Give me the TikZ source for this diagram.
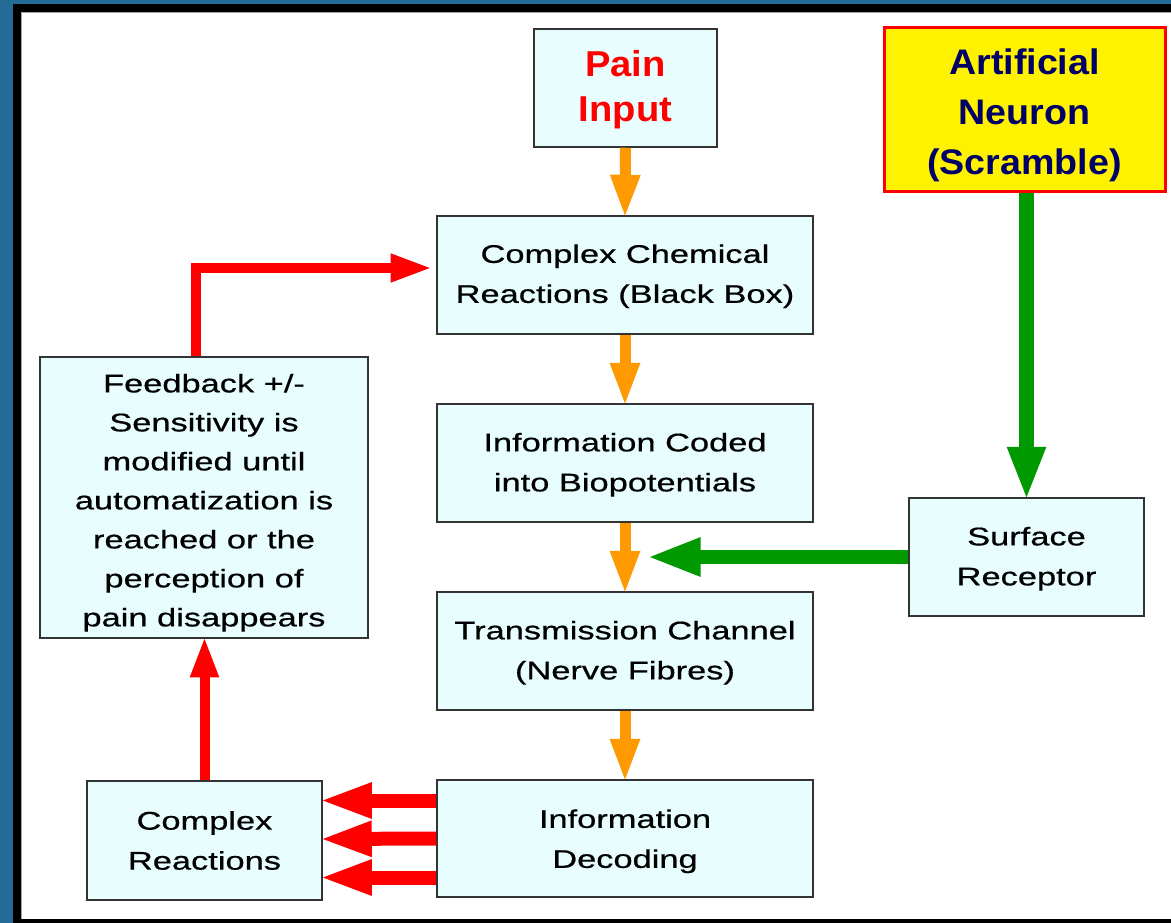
\documentclass[tikz,border=0pt]{standalone}
\usepackage{fontspec}
\setmainfont{Liberation Sans}[FakeStretch=1.35,FakeBold=0.6]
\newfontfamily\titlefont{Liberation Sans}[FakeStretch=1.06]
\usetikzlibrary{arrows.meta}
\definecolor{bgblue}{HTML}{236C98}
\definecolor{boxfill}{HTML}{E8FDFD}
\definecolor{boxline}{HTML}{333333}
\definecolor{arrorange}{HTML}{FF9900}
\definecolor{arrgreen}{HTML}{009900}
\definecolor{arrred}{HTML}{FF0000}
\definecolor{navy}{HTML}{000066}
\tikzset{
  box/.style={draw=boxline, line width=1.5pt, fill=boxfill, inner sep=0pt, align=center,
    font={\fontsize{25.5}{40}\selectfont}},
  orangearr/.style={draw=arrorange, line width=11pt, shorten >=-3.5pt, -{Triangle[length=44pt,width=27pt]}},
  greenarr/.style={draw=arrgreen, line width=14.5pt, shorten >=-3.5pt, -{Triangle[length=54pt,width=35pt]}},
  redarr/.style={draw=arrred, line width=10pt, shorten >=-2.5pt, -{Triangle[length=41pt,width=26pt]}},
  redfat/.style={draw=arrred, line width=14pt, shorten >=-4pt, -{Triangle[length=53pt,width=32pt]}},
}
\begin{document}
\begin{tikzpicture}[x=1pt,y=-1pt]
\useasboundingbox (0,0) rectangle (1171,923);
\fill[bgblue] (0,0) rectangle (1171,923);
\fill[black] (13,4) rectangle (1171,923);
\fill[white] (21,12) rectangle (1171,919);
\draw[gray!70, line width=1pt] (21.5,919) -- (21.5,12.5) -- (1171,12.5);

% nodes
\node[box, minimum width=183pt, minimum height=118pt,
  font={\titlefont\bfseries\fontsize{36}{45}\selectfont}, text=arrred]
  (pain) at (625.5,88) {\rule{0pt}{29pt}Pain\\Input};
\node[draw=arrred, line width=3pt, fill=yellow, inner sep=0pt, align=center,
  minimum width=281pt, minimum height=164pt,
  font={\titlefont\bfseries\fontsize{35.5}{50}\selectfont}, text=navy]
  (neuron) at (1024.5,110) {\rule{0pt}{37pt}Artificial\\Neuron\\(Scramble)};
\node[box, minimum width=376pt, minimum height=118pt] (ccr) at (625,275)
  {\rule{0pt}{21pt}Complex Chemical\\Reactions (Black Box)};
\node[box, minimum width=328pt, minimum height=281pt,
  font={\fontsize{25.5}{39}\selectfont}] (fb) at (204,497.5)
  {\rule{0pt}{29pt}Feedback +/-\\Sensitivity is\\modified until\\automatization is\\reached or the\\perception of\\pain disappears};
\node[box, minimum width=376pt, minimum height=118pt] (icb) at (625,463)
  {\rule{0pt}{22pt}Information Coded\\into Biopotentials};
\node[box, minimum width=235pt, minimum height=118pt] (sr) at (1026.5,557)
  {\rule{0pt}{22pt}Surface\\Receptor};
\node[box, minimum width=376pt, minimum height=118pt] (tc) at (625,651)
  {\rule{0pt}{22pt}Transmission Channel\\(Nerve Fibres)};
\node[box, minimum width=235pt, minimum height=119pt] (cr) at (204.5,840.5)
  {Complex\\Reactions};
\node[box, minimum width=376pt, minimum height=117pt] (id) at (625,838.5)
  {\rule{0pt}{24pt}Information\\Decoding};

% free ends
\coordinate (gtip) at (650,557);
\coordinate (ftip) at (430,268);

% orange chain
\draw[orangearr] (pain.south) -- (ccr.north);
\draw[orangearr] (ccr.south) -- (icb.north);
\draw[orangearr] (icb.south) -- (tc.north);
\draw[orangearr] (tc.south) -- (id.north);

% green
\draw[greenarr] (neuron.south -| sr.north) -- (sr.north);
\draw[greenarr] (sr.west) -- (gtip);

% red
\draw[redarr] (cr.north) -- (cr.north |- fb.south);
\draw[redarr, -{Triangle[length=42pt,width=26pt]}] ([xshift=-8.5pt]fb.north) |- (ftip);
\draw[redfat] ([yshift=38pt]id.west) -- ([yshift=40pt]cr.east);
\draw[redfat] ([yshift=0pt]id.west) -- ([yshift=1.5pt]cr.east);
\draw[redfat] ([yshift=-39pt]id.west) -- ([yshift=-37pt]cr.east);
\end{tikzpicture}
\end{document}
